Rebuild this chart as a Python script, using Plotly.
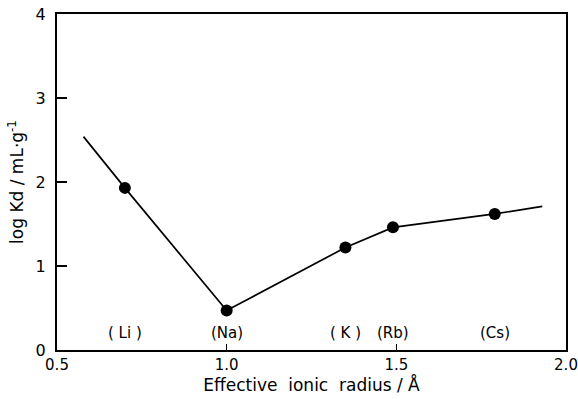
import plotly.graph_objects as go

# Measured distribution coefficients vs. effective ionic radius of alkali ions
ions = ["( Li )", "(Na)", "( K )", "(Rb)", "(Cs)"]
radius = [0.70, 1.00, 1.35, 1.49, 1.79]
log_kd = [1.93, 0.47, 1.22, 1.46, 1.62]

# Trend line drawn through the points, extended at both ends
trend_x = [0.578, 0.70, 1.00, 1.35, 1.49, 1.79, 1.93]
trend_y = [2.54, 1.93, 0.47, 1.22, 1.46, 1.62, 1.71]

font_family = "DejaVu Sans, Liberation Sans, sans-serif"

fig = go.Figure()
fig.add_trace(go.Scatter(
    x=trend_x, y=trend_y, mode="lines",
    line=dict(color="black", width=1.7), hoverinfo="skip", showlegend=False,
))
fig.add_trace(go.Scatter(
    x=radius, y=log_kd, mode="markers",
    marker=dict(color="black", size=12), showlegend=False,
))

for name, xv in zip(ions, radius):
    fig.add_annotation(
        x=xv, y=0.2, text=name, showarrow=False,
        font=dict(family=font_family, size=15, color="black"),
    )

fig.update_layout(
    width=578, height=399,
    margin=dict(l=57, r=12, t=14, b=49),
    paper_bgcolor="white", plot_bgcolor="white",
    font=dict(family=font_family, size=15, color="black"),
    xaxis=dict(
        range=[0.5, 2.0], tickvals=[0.5, 1.0, 1.5, 2.0],
        ticktext=["0.5", "1.0", "1.5", "2.0"],
        ticks="inside", ticklen=6, tickwidth=1.2, tickcolor="black",
        showline=True, linecolor="black", linewidth=2, mirror=True,
        showgrid=False, zeroline=False, automargin=False,
        tickfont=dict(size=15),
        title=dict(text="Effective  ionic  radius / Å", standoff=4,
                   font=dict(size=17)),
    ),
    yaxis=dict(
        range=[0, 4], tickvals=[0, 1, 2, 3, 4],
        ticks="inside", ticklen=10, tickwidth=2, tickcolor="black",
        showline=True, linecolor="black", linewidth=2, mirror=True,
        showgrid=False, zeroline=False, automargin=False,
        ticklabelstandoff=6,
        tickfont=dict(size=16),
        title=dict(text="log Kd / mL·g<sup>-1</sup>", standoff=8,
                   font=dict(size=17)),
    ),
)

fig.write_html("out.html")
